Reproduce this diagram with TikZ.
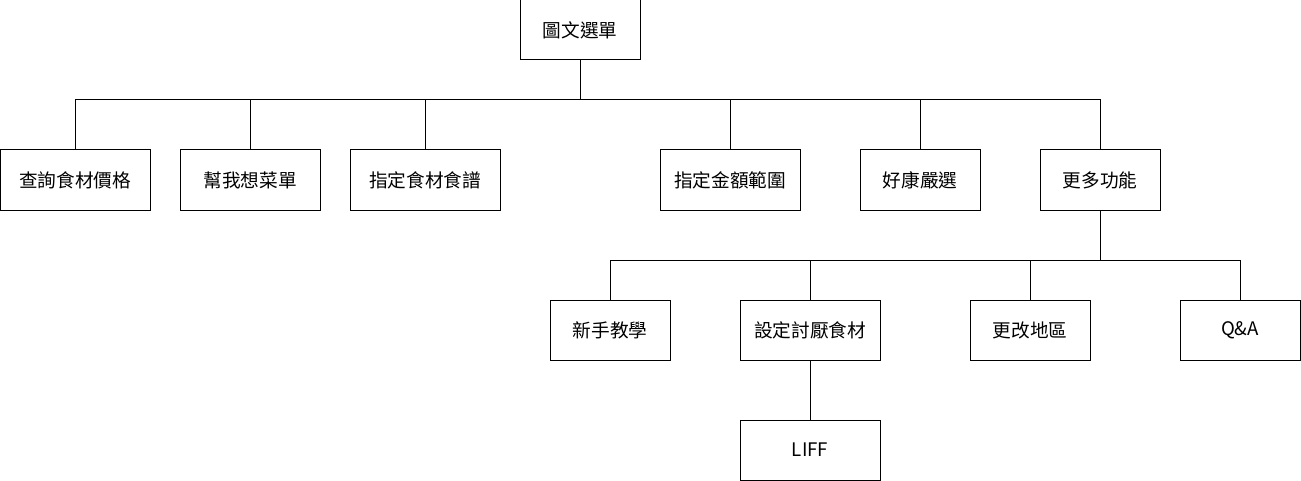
\documentclass[tikz,border=0pt]{standalone}
\usepackage{fontspec}
\setmainfont{Noto Sans CJK TC}
\usetikzlibrary{positioning}
\begin{document}
\begin{tikzpicture}[
			x=0.75pt,y=-0.75pt,
			every node/.style={
				draw,
				line width=0.75pt,
				inner sep=0pt,
				minimum height=45pt,
				font=\fontsize{14}{16}\selectfont
			},
			box/.style={minimum width=90pt},
			widebox/.style={minimum width=105pt},
			longbox/.style={minimum width=112.5pt},
			link/.style={line width=0.75pt}
			]
			
			\useasboundingbox (0,0) rectangle (1301,481);
			
			\node[box] (menu) at (580,30) {圖文選單};
			
			\node[longbox] (price) at (75,180) {查詢食材價格};
			\node[widebox] (idea) at (250,180) {幫我想菜單};
			\node[longbox] (recipe) at (425,180) {指定食材食譜};
			\node[widebox] (budget) at (730,180) {指定金額範圍};
			\node[box] (deal) at (920,180) {好康嚴選};
			\node[box] (more) at (1100,180) {更多功能};
			
			\node[box] (guide) at (610,330) {新手教學};
			\node[widebox] (dislike) at (810,330) {設定討厭食材};
			\node[box] (area) at (1030,330) {更改地區};
			\node[box] (qa) at (1240,330) {Q\&A};
			
			\node[widebox] (liff) at (810,450) {LIFF};
			
			\coordinate (bus) at (580,100);
			\coordinate (subbus) at (1100,260);
			
			\draw[link] (menu) -- (bus);
			\draw[link] (bus) -| (price);
			\draw[link] (bus) -| (idea);
			\draw[link] (bus) -| (recipe);
			\draw[link] (bus) -| (budget);
			\draw[link] (bus) -| (deal);
			\draw[link] (bus) -| (more);
			
			\draw[link] (more) -- (subbus);
			\draw[link] (subbus) -| (guide);
			\draw[link] (subbus) -| (dislike);
			\draw[link] (subbus) -| (area);
			\draw[link] (subbus) -| (qa);
			
			\draw[link] (dislike) -- (liff);
			
		\end{tikzpicture}
\end{document}
